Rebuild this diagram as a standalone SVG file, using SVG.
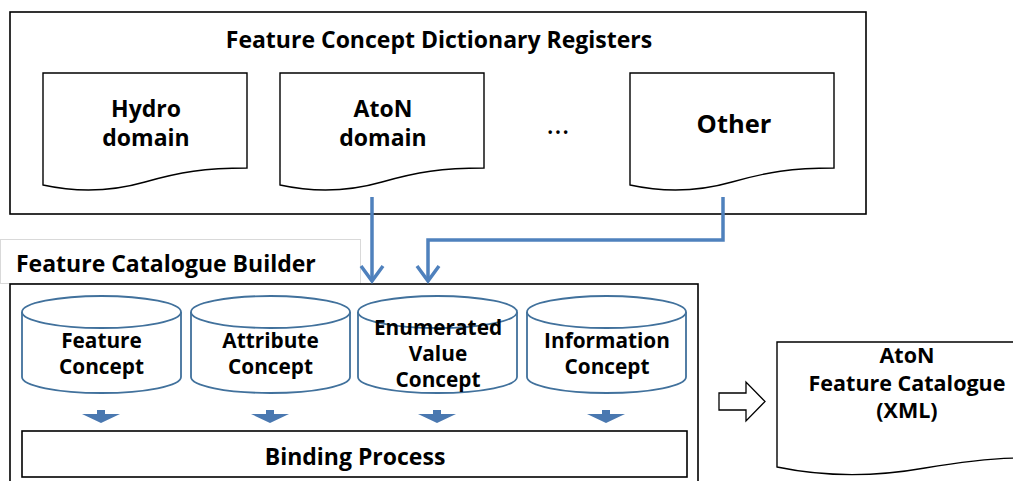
<svg xmlns="http://www.w3.org/2000/svg" width="1013" height="481" viewBox="0 0 1013 481">
<style>
text{font-family:"Open Sans","Liberation Sans",sans-serif;font-weight:bold;fill:#000;text-anchor:middle}
.box{fill:#fff;stroke:#000;stroke-width:1.6}
.doc{fill:#fff;stroke:#000;stroke-width:1.4}
.cyl{fill:#fff;stroke:#41719c;stroke-width:1.8}
.con{fill:none;stroke:#4f81bd;stroke-width:3.5}
.blk{fill:#4a78b0}
.t22{font-size:23px}
.t19{font-size:20.8px}
.tcat{font-size:21.5px}
</style>
<rect width="1013" height="481" fill="#fff"/>
<g id="registers">
<rect class="box" x="10" y="12" width="856" height="202"/>
<text class="t22" x="439" y="48">Feature Concept Dictionary Registers</text>
</g>
<g id="hydro">
<path class="doc" d="M43,73 H247 V168 C205,168 180,172 145,182 C110,192 75,192 43,185 Z"/>
<text class="t22" x="146" y="117">Hydro</text>
<text class="t22" x="146" y="146">domain</text>
</g>
<g id="aton">
<path class="doc" d="M280,73 H484 V168 C442,168 417,172 382,182 C347,192 312,192 280,185 Z"/>
<text class="t22" x="383" y="117">AtoN</text>
<text class="t22" x="383" y="146">domain</text>
</g>
<g id="ellipsis"><text x="558" y="134" style="font-size:30px;font-weight:normal">…</text></g>
<g id="other">
<path class="doc" d="M630,73 H834 V168 C792,168 767,172 732,182 C697,192 662,192 630,185 Z"/>
<text x="734" y="133" style="font-size:25.5px">Other</text>
</g>
<g id="builder-label">
<rect x="0.5" y="239.5" width="360" height="44" fill="#fff" stroke="#d9d9d9" stroke-width="1"/>
<text class="t22" x="16" y="272" style="text-anchor:start">Feature Catalogue Builder</text>
</g>
<g id="builder">
<rect class="box" x="10" y="284" width="688" height="210" stroke-width="2"/>
</g>
<g id="feature-concept">
<path class="cyl" d="M22,312 V377 A79.5,16 0 0 0 181,377 V312"/>
<ellipse class="cyl" cx="101.5" cy="312" rx="79.5" ry="16"/>
<text class="t19" x="101.5" y="348">Feature</text>
<text class="t19" x="101.5" y="374">Concept</text>
</g>
<g id="attribute-concept">
<path class="cyl" d="M191,312 V377 A79.5,16 0 0 0 350,377 V312"/>
<ellipse class="cyl" cx="270.5" cy="312" rx="79.5" ry="16"/>
<text class="t19" x="270.5" y="348">Attribute</text>
<text class="t19" x="270.5" y="374">Concept</text>
</g>
<g id="enumerated-value-concept">
<path class="cyl" d="M358,312 V377 A79.5,16 0 0 0 517,377 V312"/>
<ellipse class="cyl" cx="437.5" cy="312" rx="79.5" ry="16"/>
<text class="t19" x="438" y="335">Enumerated</text>
<text class="t19" x="438" y="361">Value</text>
<text class="t19" x="438" y="387">Concept</text>
</g>
<g id="information-concept">
<path class="cyl" d="M527,312 V377 A79.5,16 0 0 0 686,377 V312"/>
<ellipse class="cyl" cx="606.5" cy="312" rx="79.5" ry="16"/>
<text class="t19" x="607" y="348">Information</text>
<text class="t19" x="607" y="374">Concept</text>
</g>
<g id="binding-process">
<rect class="box" x="22" y="431" width="665" height="46"/>
<text class="t22" x="355" y="465">Binding Process</text>
</g>
<g id="aton-feature-catalogue">
<path class="doc" d="M777,342 H1020 V458 C990,458 960,462 925,468 C880,476 830,478 777,467 Z"/>
<text class="tcat" x="907" y="363">AtoN</text>
<text class="tcat" x="907" y="390.5">Feature Catalogue</text>
<text class="tcat" x="907" y="418">(XML)</text>
</g>
<g id="connectors">
<path class="con" d="M372,197 V280"/>
<path class="con" d="M361,266 L372,281 L383,266"/>
<path class="con" d="M723,197 V240 H428 V280"/>
<path class="con" d="M417,266 L428,281 L439,266"/>
<path class="blk" d="M97,410 H105 V414 H120 L101,423 L82,414 H97 Z"/>
<path class="blk" d="M266,410 H274 V414 H289 L270,423 L251,414 H266 Z"/>
<path class="blk" d="M433,410 H441 V414 H456 L437,423 L418,414 H433 Z"/>
<path class="blk" d="M602,410 H610 V414 H625 L606,423 L587,414 H602 Z"/>
<path d="M719,393 H746 V382 L765,401.5 L746,421 V410 H719 Z" fill="#fff" stroke="#000" stroke-width="1.3"/>
</g>
</svg>
